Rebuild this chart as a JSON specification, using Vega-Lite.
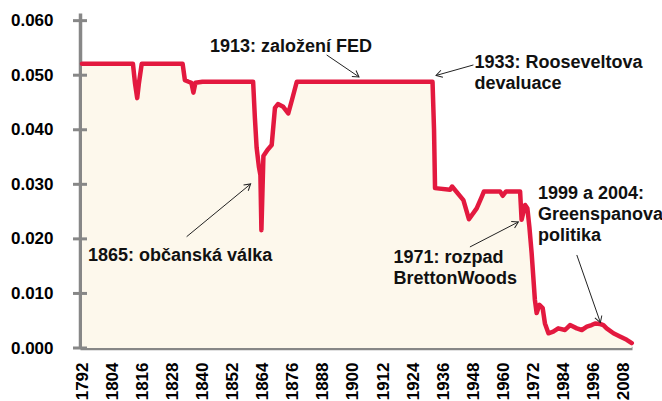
{
  "$schema": "https://vega.github.io/schema/vega-lite/v6.json",
  "width": 552,
  "height": 335,
  "autosize": "none",
  "padding": {"left": 80, "top": 13, "right": 30, "bottom": 53},
  "background": "white",
  "config": {
    "view": {"stroke": null},
    "font": "Liberation Sans"
  },
  "datasets": {
    "series": [
      {"year": 1792, "v": 0.0521}, {"year": 1812.3, "v": 0.0521}, {"year": 1813.1, "v": 0.0486},
      {"year": 1814.0, "v": 0.0458}, {"year": 1814.7, "v": 0.0486}, {"year": 1815.8, "v": 0.0521},
      {"year": 1832.1, "v": 0.0521}, {"year": 1833.0, "v": 0.0491}, {"year": 1834.5, "v": 0.0488},
      {"year": 1835.6, "v": 0.0486}, {"year": 1836.4, "v": 0.0468}, {"year": 1837.2, "v": 0.0486},
      {"year": 1840, "v": 0.0488}, {"year": 1860.2, "v": 0.0488}, {"year": 1860.9, "v": 0.0422},
      {"year": 1861.6, "v": 0.0367}, {"year": 1862.5, "v": 0.0332}, {"year": 1863.1, "v": 0.0317},
      {"year": 1863.5, "v": 0.0216}, {"year": 1864.3, "v": 0.0352}, {"year": 1865.9, "v": 0.0363},
      {"year": 1867.6, "v": 0.0372}, {"year": 1868.9, "v": 0.0440}, {"year": 1870.1, "v": 0.0447},
      {"year": 1872.2, "v": 0.0442}, {"year": 1874.2, "v": 0.0430}, {"year": 1875.7, "v": 0.0455},
      {"year": 1877.6, "v": 0.0488}, {"year": 1931.7, "v": 0.0488}, {"year": 1932.3, "v": 0.0400},
      {"year": 1932.7, "v": 0.0293}, {"year": 1938.7, "v": 0.0290}, {"year": 1939.5, "v": 0.0296},
      {"year": 1944.0, "v": 0.0271}, {"year": 1946.2, "v": 0.0236}, {"year": 1949.3, "v": 0.0256},
      {"year": 1951.3, "v": 0.0277}, {"year": 1952.2, "v": 0.0287}, {"year": 1958.6, "v": 0.0287},
      {"year": 1959.7, "v": 0.0279}, {"year": 1961.0, "v": 0.0287}, {"year": 1966.6, "v": 0.0287},
      {"year": 1967.2, "v": 0.0235}, {"year": 1968.6, "v": 0.0262}, {"year": 1969.5, "v": 0.0256},
      {"year": 1970.3, "v": 0.0222}, {"year": 1971.2, "v": 0.0174}, {"year": 1972.5, "v": 0.0088},
      {"year": 1973.2, "v": 0.0064}, {"year": 1974.3, "v": 0.0079}, {"year": 1975.6, "v": 0.0073},
      {"year": 1976.5, "v": 0.0045}, {"year": 1977.9, "v": 0.0027}, {"year": 1979.8, "v": 0.0030},
      {"year": 1981.8, "v": 0.0036}, {"year": 1984.5, "v": 0.0033}, {"year": 1986.5, "v": 0.0042},
      {"year": 1989.2, "v": 0.0036}, {"year": 1991.2, "v": 0.0033}, {"year": 1993.2, "v": 0.0039},
      {"year": 1995.1, "v": 0.0042}, {"year": 1996.5, "v": 0.0045}, {"year": 1998.5, "v": 0.0044},
      {"year": 1999.8, "v": 0.0042}, {"year": 2001.1, "v": 0.0036}, {"year": 2003.8, "v": 0.0027},
      {"year": 2006.4, "v": 0.0021}, {"year": 2009.1, "v": 0.0015}, {"year": 2011.1, "v": 0.0009}
    ],
    "yticks": [
      {"v": 0}, {"v": 0.01}, {"v": 0.02}, {"v": 0.03}, {"v": 0.04}, {"v": 0.05}, {"v": 0.06}
    ],
    "arrows": [
      {"year": 1889.5, "v": 0.05371, "year2": 1902.4, "v2": 0.04968, "angle": 34.3},
      {"year": 1948.0, "v": 0.05188, "year2": 1933.1, "v2": 0.04995, "angle": 164.3},
      {"year": 1833.7, "v": 0.02040, "year2": 1859.2, "v2": 0.03006, "angle": -39.5},
      {"year": 1946.6, "v": 0.01852, "year2": 1965.9, "v2": 0.02310, "angle": -27.4},
      {"year": 1989.2, "v": 0.01705, "year2": 1998.6, "v2": 0.00467, "angle": 70.6}
    ],
    "labels": [
      {"year": 1843.0, "v": 0.05432, "text": "1913: založení FED"},
      {"year": 1948.4, "v": 0.05128, "text": "1933: Rooseveltova"},
      {"year": 1948.4, "v": 0.04748, "text": "devaluace"},
      {"year": 1794.4, "v": 0.0160, "text": "1865: občanská válka"},
      {"year": 1916.1, "v": 0.01553, "text": "1971: rozpad"},
      {"year": 1916.1, "v": 0.01173, "text": "BrettonWoods"},
      {"year": 1973.7, "v": 0.02722, "text": "1999 a 2004:"},
      {"year": 1973.7, "v": 0.02337, "text": "Greenspanova"},
      {"year": 1973.7, "v": 0.01952, "text": "politika"}
    ]
  },
  "layer": [
    {
      "data": {"name": "series"},
      "mark": {"type": "area", "color": "#FDF8EC"},
      "encoding": {
        "x": {
          "field": "year", "type": "quantitative",
          "scale": {"domain": [1791.2, 2011.2], "nice": false, "zero": false},
          "axis": {
            "title": null,
            "values": [1792, 1804, 1816, 1828, 1840, 1852, 1864, 1876, 1888, 1900, 1912, 1924, 1936, 1948, 1960, 1972, 1984, 1996, 2008],
            "tickCount": 40,
            "format": "d", "labelAngle": -90, "labelFontSize": 17, "labelFontWeight": "bold",
            "labelColor": "#000", "labelFont": "Liberation Sans", "ticks": false, "grid": false,
            "domainColor": "#878787", "domainWidth": 3.5, "labelPadding": 14,
            "labelOverlap": false, "labelFlush": false, "labelBound": false
          }
        },
        "y": {
          "field": "v", "type": "quantitative",
          "scale": {"domain": [0, 0.0614], "nice": false, "zero": true},
          "axis": {
            "title": null, "values": [0, 0.01, 0.02, 0.03, 0.04, 0.05, 0.06], "tickCount": 20, "format": ".3f",
            "labelFontSize": 17, "labelFontWeight": "bold", "labelColor": "#000", "labelFont": "Liberation Sans",
            "ticks": false, "domainColor": "#878787", "domainWidth": 3.5, "labelPadding": 27, "grid": false
          }
        }
      }
    },
    {
      "data": {"name": "yticks"},
      "mark": {"type": "tick", "orient": "horizontal", "color": "#878787", "size": 14, "thickness": 3, "opacity": 1},
      "encoding": {
        "x": {"datum": 1791.2, "type": "quantitative"},
        "y": {"field": "v", "type": "quantitative"}
      }
    },
    {
      "data": {"name": "series"},
      "mark": {"type": "line", "color": "#E3193F", "strokeWidth": 4.5, "strokeJoin": "round", "strokeCap": "round"},
      "encoding": {
        "x": {"field": "year", "type": "quantitative"},
        "y": {"field": "v", "type": "quantitative"}
      }
    },
    {
      "data": {"name": "arrows"},
      "mark": {"type": "rule", "color": "#222", "strokeWidth": 1},
      "encoding": {
        "x": {"field": "year", "type": "quantitative"},
        "y": {"field": "v", "type": "quantitative"},
        "x2": {"field": "year2"},
        "y2": {"field": "v2"}
      }
    },
    {
      "data": {"name": "arrows"},
      "mark": {"type": "point", "shape": "M-1,-0.6L0,0L-1,0.6", "filled": false, "stroke": "#222", "strokeWidth": 1, "size": 150, "opacity": 1},
      "encoding": {
        "x": {"field": "year2", "type": "quantitative"},
        "y": {"field": "v2", "type": "quantitative"},
        "angle": {"field": "angle", "type": "quantitative", "scale": null}
      }
    },
    {
      "data": {"name": "labels"},
      "mark": {"type": "text", "align": "left", "baseline": "alphabetic", "fontSize": 18, "fontWeight": "bold", "color": "#111", "font": "Liberation Sans"},
      "encoding": {
        "x": {"field": "year", "type": "quantitative"},
        "y": {"field": "v", "type": "quantitative"},
        "text": {"field": "text"}
      }
    }
  ]
}
